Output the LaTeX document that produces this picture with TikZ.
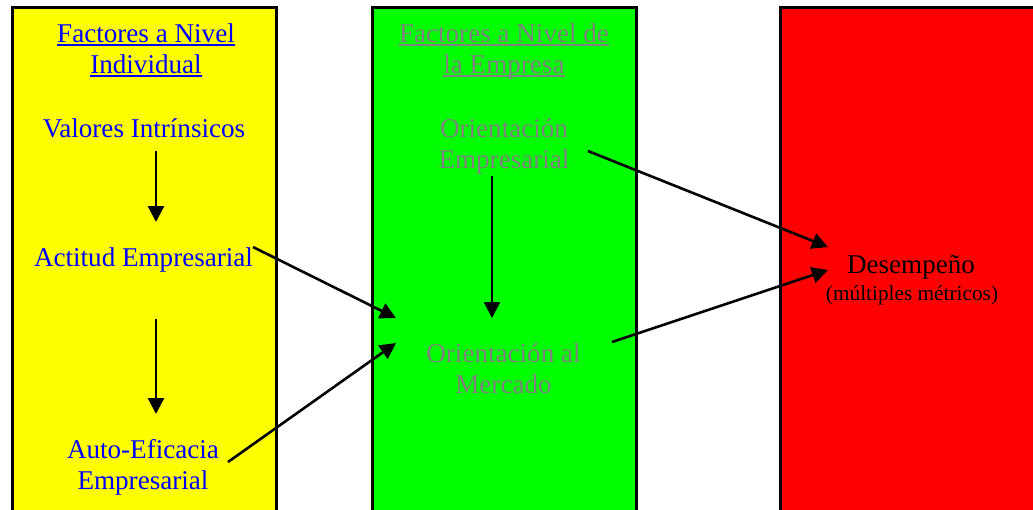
\documentclass[tikz,border=0pt]{standalone}
\usepackage{fontspec}
\setmainfont{Liberation Serif}
\usetikzlibrary{arrows.meta}

\definecolor{colyellow}{RGB}{255,255,0}
\definecolor{colgreen}{RGB}{0,255,0}
\definecolor{colred}{RGB}{255,0,0}
\definecolor{colblue}{RGB}{0,0,255}
\definecolor{colgray}{RGB}{128,128,128}

% underline at a fixed depth below the baseline
\newcommand{\ulin}[1]{\setbox0\hbox{#1}\rlap{\rule[-3.5pt]{\wd0}{1.5pt}}\box0}

\tikzset{
  column/.style={draw=black, line width=3pt},
  label/.style={inner sep=0pt, anchor=base, align=center,
    font=\fontsize{27.1}{31}\selectfont},
  flow/.style={line width=2.6pt, -{Triangle[length=16pt,width=16pt]}}
}

\begin{document}
\begin{tikzpicture}[x=1pt, y=-1pt]
	\useasboundingbox (0,0) rectangle (1033,509);
	\clip (0,0) rectangle (1033,509);

	% the three columns run off the bottom (and right) edge
	\draw[column, fill=colyellow] (12,7.5) rectangle (276,530);
	\draw[column, fill=colgreen] (372.5,7.5) rectangle (636,530);
	\draw[column, fill=colred] (780,7.5) rectangle (1050,530);

	% individual level
	\node[label, text=colblue] (indiv) at (146,73) {\ulin{Factores a Nivel}\\\ulin{Individual}};
	\node[label, text=colblue] (valores) at (144,137) {Valores Intrínsicos};
	\node[label, text=colblue] (actitud) at (143.5,266) {Actitud Empresarial};
	\node[label, text=colblue] (autoef) at (143,489) {Auto-Eficacia\\Empresarial};

	% firm level
	\node[label, text=colgray] (empresa) at (504,73) {\ulin{Factores a Nivel de}\\\ulin{la Empresa}};
	\node[label, text=colgray] (oe) at (504,168) {Orientación\\Empresarial};
	\node[label, text=colgray] (om) at (503.5,393) {Orientación al\\Mercado};

	% performance
	\node[label] (desemp) at (911,273) {Desempeño};
	\node[label, font=\fontsize{21.3}{24}\selectfont] (metricos) at (912,300) {(múltiples métricos)};

	% arrow ends
	\coordinate (valores-out) at (156,151);
	\coordinate (actitud-in) at (156,222);
	\coordinate (actitud-out) at (156,319);
	\coordinate (autoef-in) at (156,414);
	\coordinate (oe-out) at (492,176);
	\coordinate (om-in) at (492,318);
	\coordinate (actitud-om) at (253,247);
	\coordinate (om-actitud) at (396,318);
	\coordinate (autoef-om) at (228,462);
	\coordinate (om-autoef) at (396,343);
	\coordinate (oe-desemp) at (588,151);
	\coordinate (desemp-oe) at (828,247);
	\coordinate (om-desemp) at (612,342);
	\coordinate (desemp-om) at (828,270);

	\draw[flow] (valores-out) -- (actitud-in);
	\draw[flow] (actitud-out) -- (autoef-in);
	\draw[flow] (oe-out) -- (om-in);
	\draw[flow] (actitud-om) -- (om-actitud);
	\draw[flow] (autoef-om) -- (om-autoef);
	\draw[flow] (oe-desemp) -- (desemp-oe);
	\draw[flow] (om-desemp) -- (desemp-om);
\end{tikzpicture}
\end{document}
